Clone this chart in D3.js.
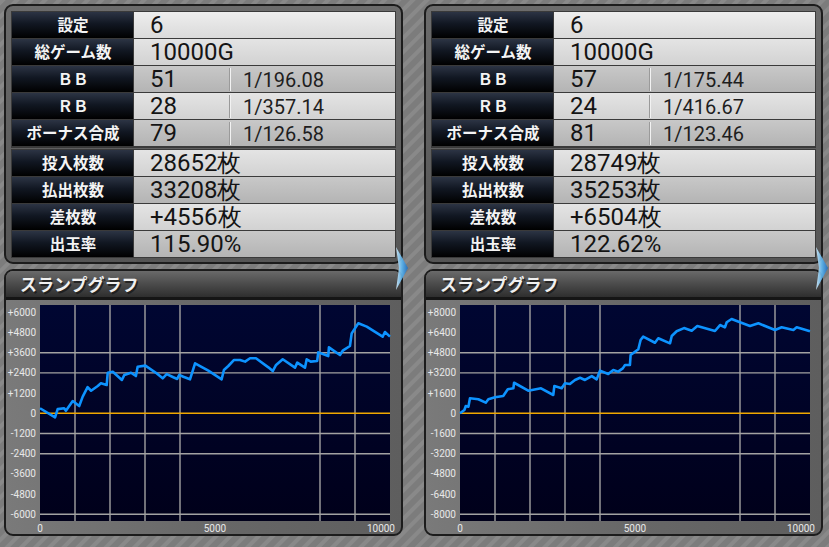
<!DOCTYPE html>
<html><head><meta charset="utf-8">
<script src="https://cdn.jsdelivr.net/npm/d3@7"></script>
<style>
html,body{margin:0;padding:0;background:#7f7f7f;overflow:hidden;}
svg{display:block;}
</style></head><body>
<svg id="c" width="829" height="547"></svg>
<script>
// ---- data ----
const tableLabelsTop = ["設定", "総ゲーム数", "ＢＢ", "ＲＢ", "ボーナス合成"];
const tableLabelsBottom = ["投入枚数", "払出枚数", "差枚数", "出玉率"];
const leftTopValues = ["6", "10000G", "51", "28", "79"];
const leftTopRates = ["", "", "1/196.08", "1/357.14", "1/126.58"];
const leftBottomValues = ["28652枚", "33208枚", "+4556枚", "115.90%"];
const rightTopValues = ["6", "10000G", "57", "24", "81"];
const rightTopRates = ["", "", "1/175.44", "1/416.67", "1/123.46"];
const rightBottomValues = ["28749枚", "35253枚", "+6504枚", "122.62%"];
const graphTitle = "スランプグラフ";
const xTicks = [0, 5000, 10000];
const xGrid = [1000, 2000, 3000, 4000, 8000, 9000];
const leftYTicks = [6000, 4800, 3600, 2400, 1200, 0, -1200, -2400, -3600, -4800, -6000];
const leftYGrid = [3600, 2400, -1200, -2400, -6000];
const rightYTicks = [8000, 6400, 4800, 3200, 1600, 0, -1600, -3200, -4800, -6400, -8000];
const rightYGrid = [4800, 3200, -1600, -3200, -8000];

const leftGames = [0, 430, 505, 690, 740, 935, 1120, 1220, 1360, 1460, 1650, 1740, 1905, 1935, 2080, 2340, 2410, 2600, 2740, 2790, 3010, 3330, 3505, 3620, 3810, 3920, 3980, 4095, 4285, 4365, 4430, 4810, 5190, 5255, 5380, 5545, 5715, 5860, 6000, 6170, 6525, 6650, 6745, 6935, 7285, 7350, 7570, 7620, 7735, 7920, 7950, 8235, 8255, 8570, 8650, 8855, 8905, 9095, 9335, 9790, 9855, 10000];
const leftSlump = [300, -240, 250, 300, 150, 730, 430, 990, 1560, 1340, 1620, 1780, 1680, 2410, 2470, 1980, 2280, 2410, 2215, 2770, 2830, 2380, 2080, 2330, 2140, 2040, 2280, 2170, 2020, 2530, 2970, 2530, 2020, 2570, 2810, 3170, 3170, 3070, 3270, 3270, 2730, 2510, 2870, 3210, 2710, 3010, 2710, 3210, 3070, 3110, 3620, 3400, 3920, 3460, 3720, 4000, 4750, 5350, 5150, 4550, 4830, 4556];

const rightGames = [0, 125, 165, 240, 285, 525, 735, 810, 1000, 1235, 1365, 1525, 1545, 1950, 2315, 2665, 2695, 2905, 3000, 3140, 3285, 3430, 3570, 3765, 3905, 4000, 4235, 4380, 4520, 4650, 4715, 4855, 4875, 5095, 5160, 5235, 5570, 5665, 6000, 6050, 6190, 6400, 6620, 6780, 7285, 7430, 7570, 7620, 7760, 8000, 8285, 8525, 9000, 9190, 9525, 9620, 10000];
const rightSlump = [0, 260, 580, 520, 1190, 1110, 840, 1110, 1270, 1370, 1900, 1980, 2420, 1790, 1980, 1450, 2160, 1980, 2380, 2320, 2640, 2820, 2640, 2950, 2690, 3380, 3110, 3430, 3300, 3560, 3830, 3830, 4620, 5070, 5810, 6070, 5590, 5940, 5540, 6120, 6500, 6750, 6540, 6910, 6520, 6990, 6810, 7210, 7470, 7210, 6910, 7130, 6600, 6810, 6600, 6810, 6504];

const panels = [
  {ox: 0, top: leftTopValues, rates: leftTopRates, bottom: leftBottomValues, yTicks: leftYTicks, yGrid: leftYGrid, games: leftGames, slump: leftSlump},
  {ox: 420, top: rightTopValues, rates: rightTopRates, bottom: rightBottomValues, yTicks: rightYTicks, yGrid: rightYGrid, games: rightGames, slump: rightSlump}
];

// ---- drawing ----
const svg = d3.select("#c");
const defs = svg.append("defs");

const pat = defs.append("pattern").attr("id", "bgStripes").attr("patternUnits", "userSpaceOnUse")
  .attr("width", 10).attr("height", 10).attr("patternTransform", "rotate(45)");
pat.append("rect").attr("width", 10).attr("height", 10).attr("fill", "#7c7c7c");
pat.append("rect").attr("width", 4).attr("height", 10).attr("fill", "#898989");

function grad(id, stops, vertical = true) {
  const g = defs.append("linearGradient").attr("id", id)
    .attr("x1", 0).attr("y1", 0).attr("x2", vertical ? 0 : 1).attr("y2", vertical ? 1 : 0);
  stops.forEach(([o, c]) => g.append("stop").attr("offset", o).attr("stop-color", c));
}
grad("labelG", [[0, "#2c3444"], [0.45, "#111722"], [1, "#000000"]]);
grad("valLight", [[0, "#eeeeee"], [1, "#dadada"]]);
grad("valLight2", [[0, "#e4e4e4"], [1, "#d2d2d2"]]);
grad("valMid", [[0, "#c8c8c8"], [1, "#b4b4b4"]]);
grad("panelG", [[0, "#6c6c6c"], [1, "#555555"]]);
grad("titleG", [[0, "#6a6a6a"], [0.5, "#4a4a4a"], [1, "#2c2c2c"]]);
grad("bodyG", [[0, "#7a7a7a"], [0.5, "#686868"], [1, "#5e5e5e"]], false);
grad("plotG", [[0, "#000632"], [1, "#00001a"]]);
grad("arrowG", [[0, "#d8f0ff"], [0.5, "#5ab4ee"], [1, "#1c6cc0"]], false);

svg.append("rect").attr("width", 829).attr("height", 547).attr("fill", "url(#bgStripes)");

const rowH = 26, rowStep = 27;
const topRowsY = d3.range(tableLabelsTop.length).map(i => 12 + i * rowStep);
const bottomRowsY = d3.range(tableLabelsBottom.length).map(i => 150 + i * rowStep);
const topFills = ["valLight", "valLight2", "valMid", "valLight2", "valMid"];
const bottomFills = ["valLight2", "valMid", "valLight2", "valMid"];

panels.forEach(p => {
  const g = svg.append("g").attr("transform", `translate(${p.ox},0)`);
  // table frame
  g.append("rect").attr("x", 5).attr("y", 5).attr("width", 397).attr("height", 258).attr("rx", 8)
    .attr("fill", "url(#panelG)").attr("stroke", "#1c1c1c").attr("stroke-width", 2);
  g.append("rect").attr("x", 11).attr("y", 11).attr("width", 385).attr("height", 137).attr("fill", "#3a3a3a");
  g.append("rect").attr("x", 11).attr("y", 149).attr("width", 385).attr("height", 109).attr("fill", "#3a3a3a");

  function rows(labels, ys, fills, values, rates) {
    labels.forEach((lab, i) => {
      const y = ys[i];
      g.append("rect").attr("x", 12).attr("y", y).attr("width", 121).attr("height", rowH).attr("fill", "url(#labelG)");
      g.append("text").attr("x", 73).attr("y", y + rowH / 2 - 1).attr("text-anchor", "middle")
        .attr("dominant-baseline", "central")
        .attr("font-family", "'Noto Sans CJK JP', sans-serif").attr("font-weight", 700)
        .attr("font-size", 15.5).attr("fill", "#f4f4f4").text(lab);
      g.append("rect").attr("x", 134).attr("y", y).attr("width", 261).attr("height", rowH).attr("fill", `url(#${fills[i]})`);
      g.append("text").attr("x", 150).attr("y", y + rowH - 5)
        .attr("font-family", "Roboto, sans-serif").attr("font-size", 24).attr("fill", "#141414").text(values[i]);
      if (rates && rates[i]) {
        g.append("line").attr("x1", 230.5).attr("x2", 230.5).attr("y1", y + 2).attr("y2", y + rowH - 1)
          .attr("stroke", "#f2f2f2").attr("stroke-width", 1);
        g.append("line").attr("x1", 229.5).attr("x2", 229.5).attr("y1", y + 2).attr("y2", y + rowH - 1)
          .attr("stroke", "#9a9a9a").attr("stroke-width", 1);
        g.append("text").attr("x", 243).attr("y", y + rowH - 5)
          .attr("font-family", "Roboto, sans-serif").attr("font-size", 20).attr("fill", "#1e1e1e").text(rates[i]);
      }
    });
  }
  rows(tableLabelsTop, topRowsY, topFills, p.top, p.rates);
  rows(tableLabelsBottom, bottomRowsY, bottomFills, p.bottom, null);

  // graph frame
  g.append("rect").attr("x", 5).attr("y", 270).attr("width", 397).attr("height", 265).attr("rx", 8)
    .attr("fill", "url(#bodyG)").attr("stroke", "#1c1c1c").attr("stroke-width", 2);
  g.append("path").attr("d", "M6,298 L6,279 Q6,271 14,271 L393,271 Q401,271 401,279 L401,298 Z").attr("fill", "url(#titleG)");
  g.append("rect").attr("x", 6).attr("y", 297).attr("width", 395).attr("height", 3).attr("fill", "#151515");
  g.append("text").attr("x", 21.5).attr("y", 292.5).attr("font-family", "'Noto Sans CJK JP', sans-serif")
    .attr("font-weight", 700).attr("font-size", 17).attr("fill", "#1a1a1a").attr("opacity", 0.8).text(graphTitle);
  g.append("text").attr("x", 20).attr("y", 291).attr("font-family", "'Noto Sans CJK JP', sans-serif")
    .attr("font-weight", 700).attr("font-size", 17).attr("fill", "#f0f0f0").text(graphTitle);

  // plot
  const ymax = d3.max(p.yTicks);
  const x = d3.scaleLinear().domain([0, 10000]).range([40, 390]);
  const y = d3.scaleLinear().domain([-ymax, ymax]).range([514.3, 312.3]);
  g.append("rect").attr("x", 40).attr("y", 305).attr("width", 350).attr("height", 216).attr("fill", "url(#plotG)");

  g.append("g").selectAll("line").data(xGrid).join("line")
    .attr("x1", d => x(d)).attr("x2", d => x(d)).attr("y1", 305).attr("y2", 521)
    .attr("stroke", "#a2a2a2").attr("stroke-width", 1.4);
  g.append("g").selectAll("line").data(p.yGrid).join("line")
    .attr("x1", 40).attr("x2", 390).attr("y1", d => y(d)).attr("y2", d => y(d))
    .attr("stroke", "#a2a2a2").attr("stroke-width", 1.4);
  g.append("line").attr("x1", 40).attr("x2", 390).attr("y1", y(0)).attr("y2", y(0))
    .attr("stroke", "#f0a800").attr("stroke-width", 1.4);

  const fmt = v => v > 0 ? "+" + v : String(v);
  g.append("g").selectAll("text").data(p.yTicks).join("text")
    .attr("x", 36).attr("y", d => y(d)).attr("text-anchor", "end").attr("dominant-baseline", "central")
    .attr("font-family", "Roboto, sans-serif").attr("font-size", 10).attr("fill", "#e8e8e8").text(fmt);
  g.append("g").selectAll("text").data(xTicks).join("text")
    .attr("x", d => d === 10000 ? 395 : x(d)).attr("y", 528)
    .attr("text-anchor", d => d === 10000 ? "end" : "middle").attr("dominant-baseline", "central")
    .attr("font-family", "Roboto, sans-serif").attr("font-size", 10).attr("fill", "#e8e8e8").text(d => d);

  const pts = p.games.map((gm, i) => [gm, p.slump[i]]);
  g.append("path").datum(pts)
    .attr("d", d3.line().x(d => x(d[0])).y(d => y(d[1])))
    .attr("fill", "none").attr("stroke", "#0d93ff").attr("stroke-width", 2.6).attr("stroke-linejoin", "round");

  // blue arrow decoration
  g.append("path").attr("d", "M396,247 L408,268 L396,290 L399,268 Z").attr("fill", "url(#arrowG)").attr("opacity", 0.9);
});
</script>
</body></html>
